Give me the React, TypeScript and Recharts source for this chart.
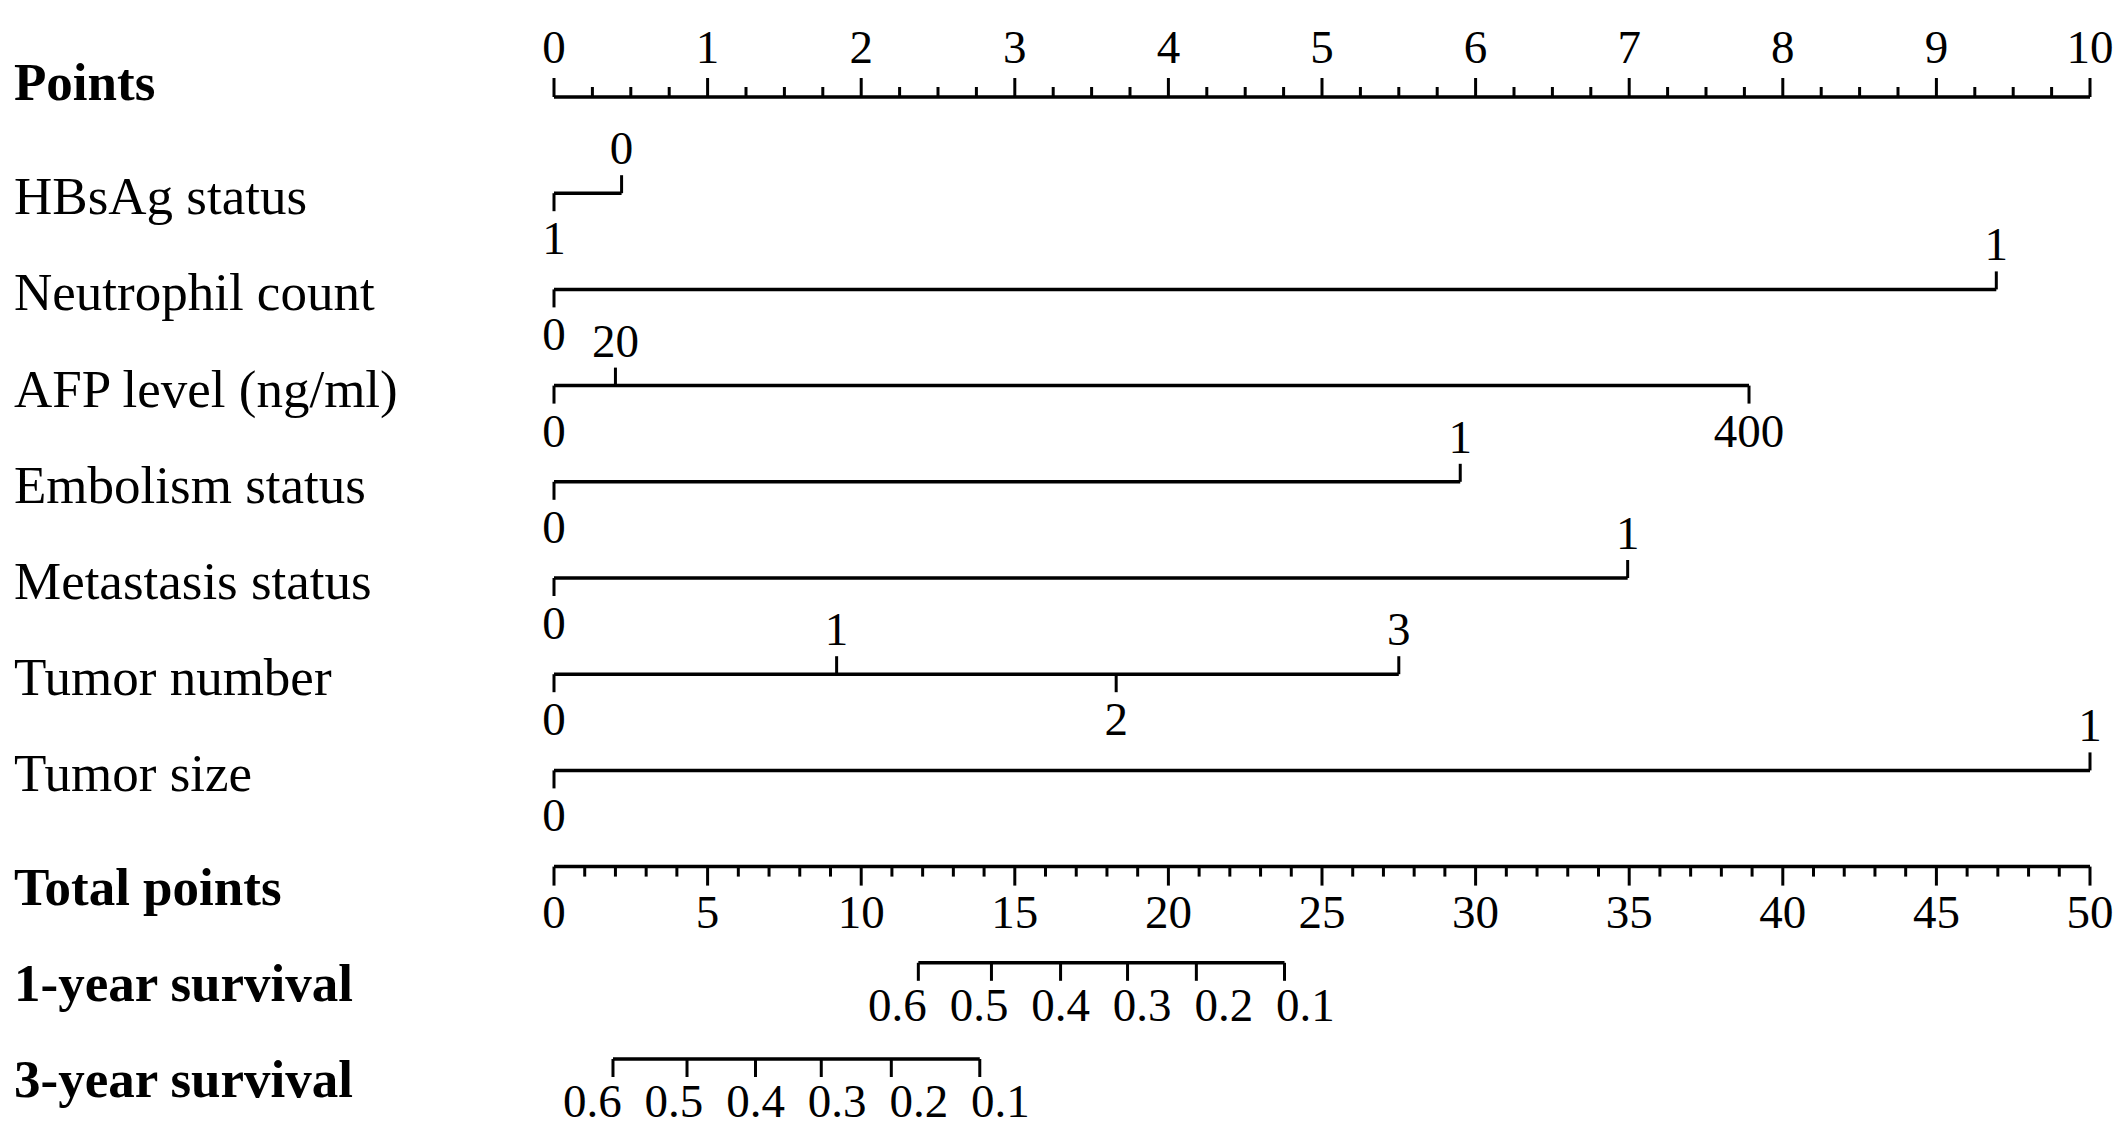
import React from "react";
import { ComposedChart, Scatter, XAxis, YAxis } from "recharts";

const W = 2126;
const H = 1142;
const PLOT_LEFT = 554;
const PLOT_RIGHT = 36;
const PLOT_W = W - PLOT_LEFT - PLOT_RIGHT;
const FONT = '"Liberation Serif", "Times New Roman", serif';

// row titles, top to bottom
const rowNames = [
  "Points",
  "HBsAg status",
  "Neutrophil count",
  "AFP level (ng/ml)",
  "Embolism status",
  "Metastasis status",
  "Tumor number",
  "Tumor size",
  "Total points",
  "1-year survival",
  "3-year survival",
];
const boldRows = ["Points", "Total points", "1-year survival", "3-year survival"];

// scales
const pointsLabels = [0, 1, 2, 3, 4, 5, 6, 7, 8, 9, 10];
const pointsMinorPerMajor = 4;
const totalLabels = [0, 5, 10, 15, 20, 25, 30, 35, 40, 45, 50];
const totalMinorPerMajor = 5;

// variables: level labels and their points
const hbsagLevels = ["1", "0"];
const hbsagPoints = [0, 0.44];
const neutrophilLevels = ["0", "1"];
const neutrophilPoints = [0, 9.39];
const afpLevels = ["0", "20", "400"];
const afpPoints = [0, 0.4, 7.78];
const embolismLevels = ["0", "1"];
const embolismPoints = [0, 5.9];
const metastasisLevels = ["0", "1"];
const metastasisPoints = [0, 6.99];
const tumorNumberLevels = ["0", "1", "2", "3"];
const tumorNumberPoints = [0, 1.84, 3.66, 5.5];
const tumorSizeLevels = ["0", "1"];
const tumorSizePoints = [0, 10];

// survival probabilities on the total points scale
const survivalProbs = ["0.6", "0.5", "0.4", "0.3", "0.2", "0.1"];
const survival1yTotal = [11.86, 14.24, 16.49, 18.67, 20.91, 23.78];
const survival3yTotal = [1.92, 4.33, 6.56, 8.7, 10.98, 13.86];

type Mark = { x: number; y: number; label: string; major: boolean; dir: "up" | "down"; dx: number };

function axisMarks(labels: number[], minorPer: number, row: number, dir: "up" | "down"): Mark[] {
  const out: Mark[] = [];
  for (let i = 0; i < labels.length; i++) {
    out.push({ x: labels[i], y: row, label: String(labels[i]), major: true, dir, dx: 0 });
    if (i < labels.length - 1) {
      const step = (labels[i + 1] - labels[i]) / minorPer;
      for (let k = 1; k < minorPer; k++) {
        out.push({ x: labels[i] + k * step, y: row, label: "", major: false, dir, dx: 0 });
      }
    }
  }
  return out;
}

function varMarks(levels: string[], pts: number[], row: number): Mark[] {
  return levels
    .map((l, i) => ({ label: l, x: pts[i] }))
    .sort((a, b) => a.x - b.x)
    .map((d, i) => ({ x: d.x, y: row, label: d.label, major: true, dir: i % 2 === 0 ? "down" : "up", dx: 0 }));
}

// survival labels are spread evenly so they don't collide
const LABEL_SPREAD = 81.6;
function survMarks(totals: number[], row: number): Mark[] {
  const pxPer = PLOT_W / 50;
  const mid = (totals[0] + totals[totals.length - 1]) / 2;
  const n = totals.length;
  return totals.map((t, i) => ({
    x: t,
    y: row,
    label: survivalProbs[i],
    major: true,
    dir: "down" as const,
    dx: (mid - t) * pxPer + (i - (n - 1) / 2) * LABEL_SPREAD,
  }));
}

const pointsData = axisMarks(pointsLabels, pointsMinorPerMajor, 0, "up");
const varData = [
  varMarks(hbsagLevels, hbsagPoints, 1),
  varMarks(neutrophilLevels, neutrophilPoints, 2),
  varMarks(afpLevels, afpPoints, 3),
  varMarks(embolismLevels, embolismPoints, 4),
  varMarks(metastasisLevels, metastasisPoints, 5),
  varMarks(tumorNumberLevels, tumorNumberPoints, 6),
  varMarks(tumorSizeLevels, tumorSizePoints, 7),
];
const totalData = axisMarks(totalLabels, totalMinorPerMajor, 8, "down");
const surv1Data = survMarks(survival1yTotal, 9);
const surv3Data = survMarks(survival3yTotal, 10);

const lineStyle = { stroke: "#000", strokeWidth: 3.5 };

function makeTick(kind: "axis" | "var" | "surv") {
  return (props: any) => {
    const { cx, cy, payload } = props;
    const up = payload.dir === "up";
    let len = 18;
    if (kind === "axis") len = payload.major ? 19 : 10;
    const y2 = up ? cy - len : cy + len;
    let ty: number;
    if (kind === "axis") ty = up ? cy - 34 : cy + 61;
    else if (kind === "surv") ty = cy + 58;
    else ty = up ? cy - 29 : cy + 61;
    return (
      <g>
        <line x1={cx} y1={cy} x2={cx} y2={y2} stroke="#000" strokeWidth={3} />
        {payload.label ? (
          <text x={cx + payload.dx} y={ty} textAnchor="middle" fontSize={47} fontFamily={FONT} fill="#000">
            {payload.label}
          </text>
        ) : null}
      </g>
    );
  };
}

function RowLabel(props: any) {
  const { y, payload } = props;
  const name = rowNames[payload.value];
  const bold = boldRows.includes(name);
  let off = 21;
  if (name === "Points") off = 3;
  else if (bold) off = 38;
  return (
    <text x={14} y={y + off} textAnchor="start" fontSize={53} fontWeight={bold ? 700 : 400} fontFamily={FONT} fill="#000">
      {name}
    </text>
  );
}

export default function App() {
  return (
    <div style={{ position: "absolute", left: 0, top: 0, width: W, height: H, background: "#fff" }}>
      <ComposedChart width={W} height={H} margin={{ top: 97, right: PLOT_RIGHT, bottom: 83, left: 0 }}>
        <XAxis xAxisId="pts" dataKey="x" type="number" domain={[0, 10]} hide />
        <XAxis xAxisId="total" dataKey="x" type="number" domain={[0, 50]} hide />
        <YAxis
          dataKey="y"
          type="number"
          domain={[0, 10]}
          reversed
          ticks={rowNames.map((_, i) => i)}
          interval={0}
          width={PLOT_LEFT}
          axisLine={false}
          tickLine={false}
          tick={RowLabel}
        />
        <Scatter xAxisId="pts" data={pointsData} line={lineStyle} shape={makeTick("axis")} isAnimationActive={false} />
        {varData.map((d, i) => (
          <Scatter key={i} xAxisId="pts" data={d} line={lineStyle} shape={makeTick("var")} isAnimationActive={false} />
        ))}
        <Scatter xAxisId="total" data={totalData} line={lineStyle} shape={makeTick("axis")} isAnimationActive={false} />
        <Scatter xAxisId="total" data={surv1Data} line={lineStyle} shape={makeTick("surv")} isAnimationActive={false} />
        <Scatter xAxisId="total" data={surv3Data} line={lineStyle} shape={makeTick("surv")} isAnimationActive={false} />
      </ComposedChart>
    </div>
  );
}
